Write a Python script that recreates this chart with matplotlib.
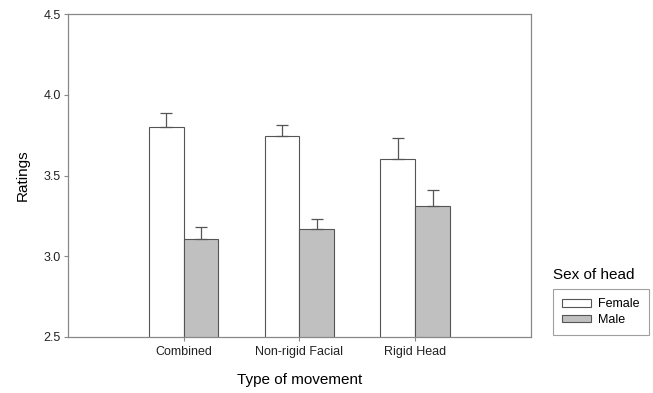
import matplotlib.pyplot as plt
import numpy as np

plt.rcParams["font.family"] = ["Liberation Sans", "DejaVu Sans"]

movements = ["Combined", "Non-rigid Facial", "Rigid Head"]
female_mean = [3.80, 3.745, 3.605]
female_err = [0.09, 0.07, 0.13]
male_mean = [3.11, 3.17, 3.31]
male_err = [0.07, 0.06, 0.10]

EDGE = "#555555"
AXIS = "#888888"

fig = plt.figure(figsize=(6.53, 3.93), dpi=100)
ax = fig.add_axes([0.104, 0.1425, 0.709, 0.8215])

x = np.arange(len(movements))
w = 0.3
err_kw = dict(ecolor=EDGE, elinewidth=0.9, capsize=4, capthick=0.9)
ax.bar(x - w / 2, female_mean, width=w, color="white", edgecolor=EDGE,
       linewidth=0.8, yerr=[np.zeros(3), female_err], error_kw=err_kw, label="Female")
ax.bar(x + w / 2, male_mean, width=w, color="#c0c0c0", edgecolor=EDGE,
       linewidth=0.8, yerr=[np.zeros(3), male_err], error_kw=err_kw, label="Male")

ax.set_xlim(-1, 3)
ax.set_ylim(2.5, 4.5)
ax.set_yticks([2.5, 3.0, 3.5, 4.0, 4.5])
ax.set_yticklabels(["2.5", "3.0", "3.5", "4.0", "4.5"])
ax.set_xticks(x)
ax.set_xticklabels(movements)
ax.tick_params(axis="both", labelsize=9, color=AXIS, labelcolor="#222222",
               length=3, width=0.8)
ax.tick_params(axis="y", direction="out", pad=2)
for s in ax.spines.values():
    s.set_color(AXIS)
    s.set_linewidth(0.9)

ax.set_xlabel("Type of movement", fontsize=11, labelpad=11)
ax.set_ylabel("Ratings", fontsize=11, labelpad=10)

fig.text(0.847, 0.30, "Sex of head", fontsize=11, ha="left", va="center")
leg = fig.legend(loc="upper left", bbox_to_anchor=(0.847, 0.265), fontsize=9,
                 frameon=True, fancybox=False, handlelength=2.3, handleheight=0.55,
                 handletextpad=0.55, borderpad=0.75, labelspacing=0.3,
                 borderaxespad=0)
leg.get_frame().set_edgecolor(AXIS)
leg.get_frame().set_linewidth(0.8)
# stretch the box out to the right edge
fig.canvas.draw()
bb = leg.get_window_extent()
leg.get_frame().set_width(max(bb.width, 97))

fig.savefig("out.png", dpi=100)
